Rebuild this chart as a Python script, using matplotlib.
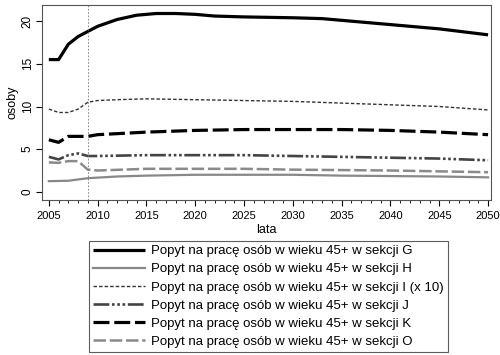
import matplotlib
matplotlib.use("Agg")
import matplotlib.pyplot as plt
import numpy as np

plt.rcParams['font.family'] = ['Liberation Sans', 'DejaVu Sans']

years_G = [2005, 2006, 2007, 2008, 2009, 2010, 2012, 2014, 2016, 2018, 2020, 2022, 2025, 2030, 2033, 2035, 2040, 2045, 2050]
vals_G = [15.5, 15.5, 17.3, 18.2, 18.8, 19.4, 20.2, 20.7, 20.9, 20.9, 20.8, 20.6, 20.5, 20.4, 20.3, 20.1, 19.6, 19.1, 18.4]

years_H = [2005, 2007, 2009, 2012, 2015, 2020, 2025, 2030, 2035, 2040, 2045, 2050]
vals_H = [1.25, 1.3, 1.6, 1.8, 1.9, 2.0, 2.0, 2.0, 1.9, 1.85, 1.8, 1.7]

years_I = [2005, 2006, 2007, 2008, 2009, 2010, 2012, 2015, 2020, 2025, 2030, 2035, 2040, 2045, 2050]
vals_I = [9.7, 9.3, 9.3, 9.7, 10.5, 10.7, 10.8, 10.9, 10.8, 10.7, 10.6, 10.4, 10.2, 10.0, 9.6]

years_J = [2005, 2006, 2007, 2008, 2009, 2010, 2015, 2020, 2025, 2030, 2035, 2040, 2045, 2050]
vals_J = [4.1, 3.8, 4.3, 4.5, 4.2, 4.2, 4.3, 4.3, 4.3, 4.2, 4.1, 4.0, 3.9, 3.7]

years_K = [2005, 2006, 2007, 2008, 2009, 2010, 2015, 2020, 2025, 2030, 2035, 2040, 2045, 2050]
vals_K = [6.1, 5.8, 6.5, 6.5, 6.5, 6.7, 7.0, 7.2, 7.3, 7.3, 7.3, 7.2, 7.0, 6.7]

years_O = [2005, 2006, 2007, 2008, 2009, 2010, 2015, 2020, 2025, 2030, 2035, 2040, 2045, 2050]
vals_O = [3.45, 3.4, 3.6, 3.6, 2.6, 2.5, 2.7, 2.7, 2.7, 2.6, 2.55, 2.5, 2.4, 2.3]

labels = [
    "Popyt na pracę osób w wieku 45+ w sekcji G",
    "Popyt na pracę osób w wieku 45+ w sekcji H",
    "Popyt na pracę osób w wieku 45+ w sekcji I (x 10)",
    "Popyt na pracę osób w wieku 45+ w sekcji J",
    "Popyt na pracę osób w wieku 45+ w sekcji K",
    "Popyt na pracę osób w wieku 45+ w sekcji O",
]

x_ticks = [2005, 2010, 2015, 2020, 2025, 2030, 2035, 2040, 2045, 2050]
y_ticks = [0, 5, 10, 15, 20]
ref_year = 2009

fig = plt.figure(figsize=(5.0, 3.55), dpi=100)
ax = fig.add_axes([0.084, 0.437, 0.898, 0.549])

ax.plot(years_G, vals_G, color='black', lw=2.3, solid_capstyle='butt')
ax.plot(years_H, vals_H, color='#888888', lw=1.6)
ax.plot(years_I, vals_I, color='#333333', lw=1.0, ls=(0, (2.5, 1.5)))
ax.plot(years_J, vals_J, color='#444444', lw=1.9, ls=(0, (6, 1, 1, 1, 1, 1, 1, 1)))
ax.plot(years_K, vals_K, color='black', lw=2.3, ls=(0, (5, 1.5)))
ax.plot(years_O, vals_O, color='#8a8a8a', lw=1.8, ls=(0, (5, 1.5)))

ax.axvline(ref_year, color='#777777', lw=0.6, ls=(0, (2, 2)))

ax.set_xlim(2004.3, 2050.3)
ax.set_ylim(-0.94, 21.9)
ax.set_xticks(x_ticks)
ax.set_xticks(np.arange(2005, 2051, 1), minor=True)
ax.set_yticks(y_ticks)
ax.tick_params(axis='x', labelsize=8, length=4, width=0.8, pad=4)
ax.tick_params(axis='x', which='minor', length=2.5, width=0.6)
ax.tick_params(axis='y', labelsize=8.5, length=4, width=0.8, pad=2)
for lbl in ax.get_yticklabels():
    lbl.set_rotation(90)
    lbl.set_va('center')
ax.set_xlabel("lata", fontsize=9, labelpad=2)
ax.set_ylabel("osoby", fontsize=9, labelpad=2)
for s in ax.spines.values():
    s.set_color('#555555')
    s.set_linewidth(0.8)

handles = ax.get_lines()[:6]
leg = fig.legend(handles, labels, loc='upper center', bbox_to_anchor=(0.537, 0.321),
                 ncol=1, fontsize=9.5, frameon=True, fancybox=False, edgecolor='#333333',
                 handlelength=3.9, handletextpad=0.5, borderpad=0.3, labelspacing=0.45,
                 borderaxespad=0)
leg.get_frame().set_linewidth(0.8)

fig.savefig("out.png", dpi=100, facecolor='white')
